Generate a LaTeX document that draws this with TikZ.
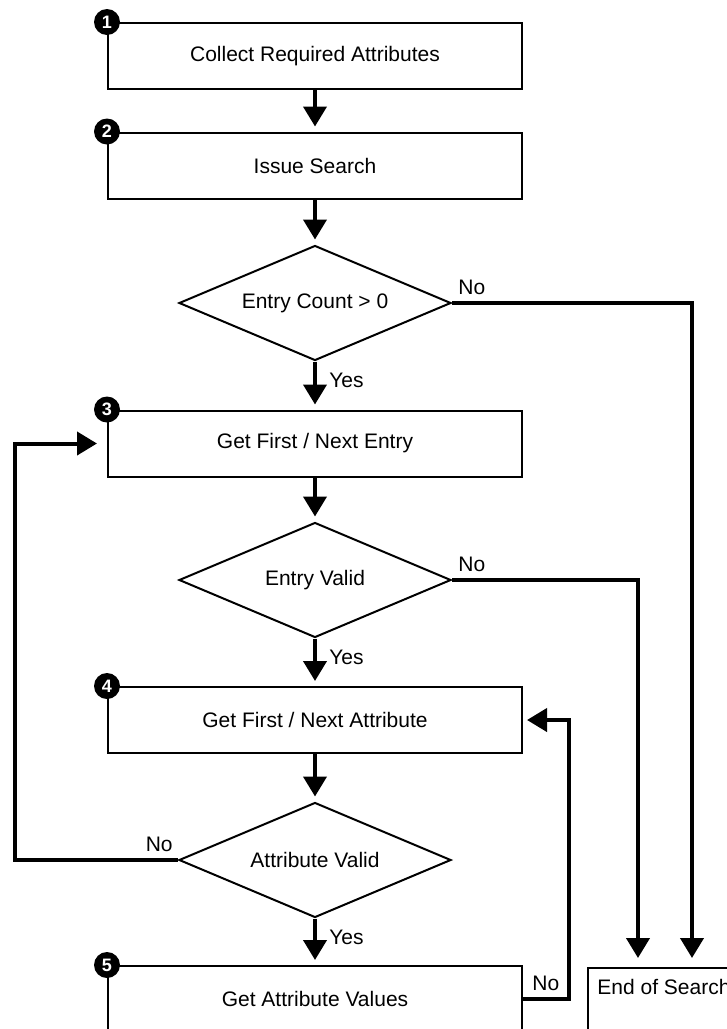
\documentclass[tikz,border=0pt]{standalone}
\usepackage{fontspec}
\setmainfont{Liberation Sans}
\usetikzlibrary{shapes,arrows.meta,positioning,calc}
\newcommand{\txtf}{\fontsize{10.5}{12}\selectfont}
\newcommand{\numf}{\bfseries\fontsize{9}{9}\selectfont}
\tikzset{
  box/.style={draw, line width=1pt, rectangle, minimum width=207pt, minimum height=33pt, inner sep=0pt, font=\txtf},
  test/.style={draw, line width=1pt, diamond, shape aspect=2.4, minimum width=136pt, minimum height=57.5pt, inner sep=0pt, font=\txtf},
  flow/.style={-{Triangle[length=10pt,width=11.5pt]}, line width=2pt, shorten >=2.5pt},
  num/.style={circle, fill=black, text=white, inner sep=0pt, minimum size=13pt, font=\numf},
  lbl/.style={inner sep=1pt, font=\txtf}
}
\begin{document}
\begin{tikzpicture}[x=0.5pt, y=-0.5pt]
\useasboundingbox (0,0) rectangle (727,1029);
\clip (0,0) rectangle (727,1029);
\node[box] (B1) at (315,56) {Collect Required Attributes};
\node[box] (B2) at (315,165.5) {Issue Search};
\node[test] (D1) at (315,303) {Entry Count > 0};
\node[box] (B3) at (315,443.5) {Get First / Next Entry};
\node[test] (D2) at (315,580) {Entry Valid};
\node[box] (B4) at (315,720) {Get First / Next Attribute};
\node[test] (D3) at (315,860) {Attribute Valid};
\node[box] (B5) at (315,999) {Get Attribute Values};
\node[draw, line width=1pt, anchor=north west, minimum width=120pt, minimum height=60pt] (endS) at (587,967) {};
\node[lbl, anchor=west, inner sep=0pt] (endT) at (597,987) {End of Search};
\node[num] (n1) at (B1.north west) {1};
\node[num] (n2) at (B2.north west) {2};
\node[num] (n3) at (B3.north west) {3};
\node[num] (n4) at (B4.north west) {4};
\node[num] (n5) at (B5.north west) {5};
\coordinate (in1) at (692,967);
\coordinate (in2) at (638,967);
\coordinate (lp) at (15,0);
\coordinate (rt) at (569,0);
\draw[flow] (B1.south) -- (B2.north);
\draw[flow] (B2.south) -- (D1.north);
\draw[flow] (D1.south) -- (B3.north);
\draw[flow] (B3.south) -- (D2.north);
\draw[flow] (D2.south) -- (B4.north);
\draw[flow] (B4.south) -- (D3.north);
\draw[flow] (D3.south) -- (B5.north);
\draw[flow, shorten >=4.5pt] (D1.east) -| (in1);
\draw[flow, shorten >=4.5pt] (D2.east) -| (in2);
\draw[flow, shorten >=5pt] (D3.west) -- (D3.west -| lp) |- (B3.west);
\draw[flow, shorten >=2pt] (B5.east) -- (B5.east -| rt) |- (B4.east);
\node[lbl, anchor=west] (y1) at ($(D1.south)+(12,19)$) {Yes};
\node[lbl, anchor=west] (y2) at ($(D2.south)+(12,19)$) {Yes};
\node[lbl, anchor=west] (y3) at ($(D3.south)+(12,19)$) {Yes};
\node[lbl, anchor=south west] (no1) at ($(D1.east)+(4,-6)$) {No};
\node[lbl, anchor=south west] (no2) at ($(D2.east)+(4,-6)$) {No};
\node[lbl, anchor=south east] (no3) at ($(D3.west)+(-3,-6)$) {No};
\node[lbl, anchor=south west] (no4) at ($(B5.east)+(7,-6)$) {No};
\end{tikzpicture}
\end{document}
